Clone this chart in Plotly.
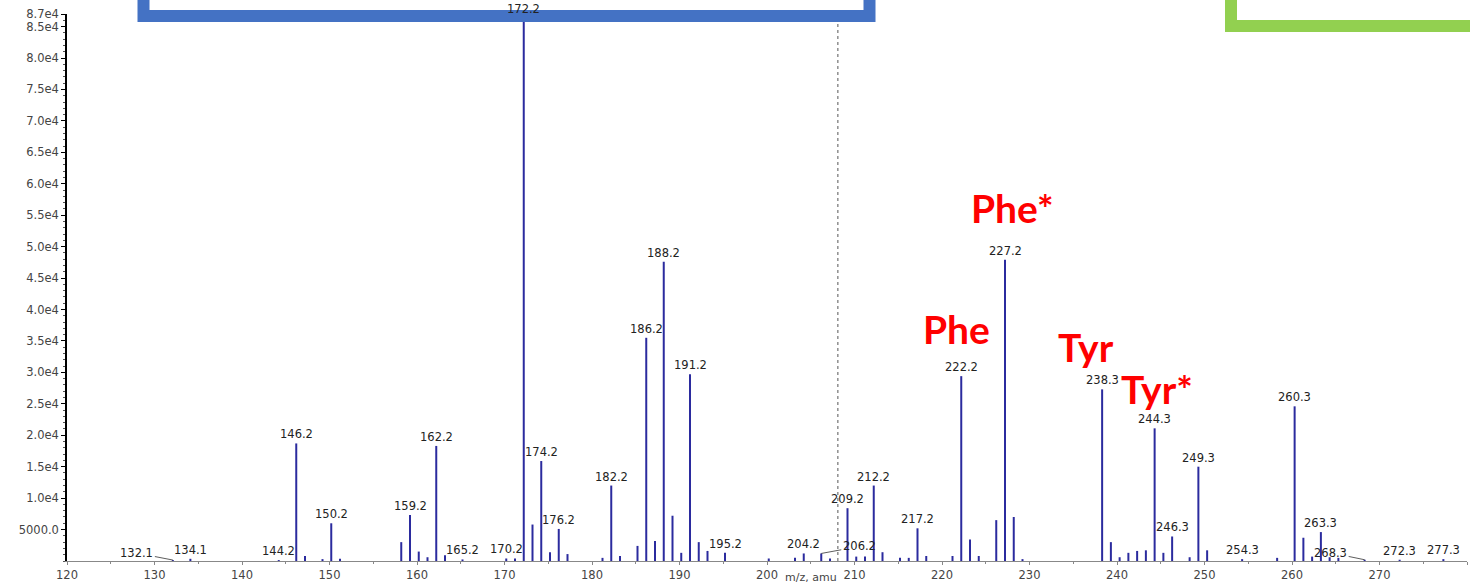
import plotly.graph_objects as go

# ---- data: peaks (m/z, intensity) ----
mz = [132.1, 134.1, 144.2, 146.2, 147.2, 149.2, 150.2, 151.2, 158.2, 159.2, 160.2, 161.2,
      162.2, 163.2, 165.2, 170.2, 171.2, 172.2, 173.2, 174.2, 175.2, 176.2, 177.2, 181.2,
      182.2, 183.2, 185.2, 186.2, 187.2, 188.2, 189.2, 190.2, 191.2, 192.2, 193.2, 195.2,
      200.2, 203.2, 204.2, 206.2, 207.2, 209.2, 210.2, 211.2, 212.2, 213.2, 215.2, 216.2,
      217.2, 218.2, 221.2, 222.2, 223.2, 224.2, 226.2, 227.2, 228.2, 229.2, 238.3, 239.3,
      240.3, 241.3, 242.3, 243.3, 244.3, 245.3, 246.3, 248.3, 249.3, 250.3, 254.3, 258.3,
      260.3, 261.3, 262.3, 263.3, 264.3, 265.3, 268.3, 272.3, 277.3]
intensity = [150, 350, 150, 18700, 800, 300, 6000, 350, 3000, 7300, 1500, 600,
             18300, 900, 250, 400, 400, 86400, 5800, 15900, 1400, 5100, 1100, 500,
             12000, 800, 2400, 35500, 3200, 47600, 7200, 1300, 29700, 3000, 1600, 1300,
             400, 500, 1200, 1200, 400, 8400, 700, 700, 12000, 1400, 500, 500,
             5200, 800, 800, 29400, 3400, 800, 6500, 47900, 7000, 300, 27300, 3000,
             600, 1300, 1600, 1700, 21100, 1300, 3900, 600, 15000, 1700, 300, 500,
             24600, 3700, 700, 4600, 600, 500, 200, 200, 300]

label_mz = [132.1, 134.1, 144.2, 146.2, 150.2, 159.2, 162.2, 165.2, 170.2, 172.2, 174.2,
            176.2, 182.2, 186.2, 188.2, 191.2, 195.2, 204.2, 206.2, 209.2, 212.2, 217.2,
            222.2, 227.2, 238.3, 244.3, 246.3, 249.3, 254.3, 260.3, 263.3, 268.3, 272.3, 277.3]
label_text = ["132.1", "134.1", "144.2", "146.2", "150.2", "159.2", "162.2", "165.2", "170.2",
              "172.2", "174.2", "176.2", "182.2", "186.2", "188.2", "191.2", "195.2", "204.2",
              "206.2", "209.2", "212.2", "217.2", "222.2", "227.2", "238.3", "244.3", "246.3",
              "249.3", "254.3", "260.3", "263.3", "268.3", "272.3", "277.3"]
# labels pushed aside with a leader line (pixel offset of label from its peak)
leader_offset = {"132.1": -36, "206.2": 38, "268.3": -34}

y_tickvals = [5000, 10000, 15000, 20000, 25000, 30000, 35000, 40000, 45000, 50000, 55000,
              60000, 65000, 70000, 75000, 80000, 85000, 87000]
y_ticktext = ["5000.0", "1.0e4", "1.5e4", "2.0e4", "2.5e4", "3.0e4", "3.5e4", "4.0e4", "4.5e4",
              "5.0e4", "5.5e4", "6.0e4", "6.5e4", "7.0e4", "7.5e4", "8.0e4", "8.5e4", "8.7e4"]

annot_text = ["Phe*", "Phe", "Tyr", "Tyr*"]
annot_mz = [228.0, 221.6, 236.5, 244.6]
annot_y = [56200, 36900, 34000, 27400]

x_title = "m/z, amu"

# ---- build figure ----
xs, ys = [], []
for m, v in zip(mz, intensity):
    xs += [m, m, None]
    ys += [0, v, None]

fig = go.Figure()
fig.add_trace(go.Scatter(x=xs, y=ys, mode="lines", line=dict(color="#2b2b9e", width=2),
                         hoverinfo="skip", showlegend=False))
# baseline arrow marker
fig.add_trace(go.Scatter(x=[119.4], y=[600], mode="markers", cliponaxis=False,
                         marker=dict(symbol="triangle-right", size=10, color="#1a1a8c"),
                         showlegend=False, hoverinfo="skip"))

lab_font = dict(family="DejaVu Sans", size=11.5, color="#222222")
inten = dict(zip(mz, intensity))
for m, t in zip(label_mz, label_text):
    if t in leader_offset:
        fig.add_annotation(x=m, y=inten[m], ax=leader_offset[t], ay=-7, text=t,
                           showarrow=True, arrowhead=0, arrowwidth=0.8,
                           arrowcolor="#333333", standoff=0, startstandoff=0,
                           font=lab_font)
    else:
        fig.add_annotation(x=m, y=inten[m], text=t, showarrow=False, yanchor="bottom",
                           font=lab_font)

for t, m, y in zip(annot_text, annot_mz, annot_y):
    fig.add_annotation(x=m, y=y, text="<b>" + t + "</b>", showarrow=False,
                       font=dict(family="Lato", size=39, color="#ff0000"))

# dotted marker line
fig.add_shape(type="line", x0=208.1, x1=208.1, y0=0, y1=87000,
              line=dict(color="#555555", width=1, dash="dot"), layer="below")

L, T, H, W = 67, 14, 547, 1400

def px(x):
    return (x - L) / W

def py(y):
    return (T + H - y) / H

# x-axis title, kept inside the page between the 200 and 210 tick labels
fig.add_annotation(x=205, xref="x", y=py(586), yref="paper", yanchor="bottom",
                   text=x_title, showarrow=False,
                   font=dict(family="DejaVu Sans", size=11, color="#444444"))

fig.add_shape(type="rect", xref="paper", yref="paper", x0=px(143.5), x1=px(869.5),
              y0=py(16), y1=py(-60), line=dict(color="#4472C4", width=12),
              fillcolor="rgba(0,0,0,0)", layer="above")
fig.add_shape(type="rect", xref="paper", yref="paper", x0=px(1231), x1=px(1600),
              y0=py(26), y1=py(-60), line=dict(color="#92D050", width=12),
              fillcolor="rgba(0,0,0,0)", layer="above")

tick_font = dict(family="DejaVu Sans", size=11.5, color="#444444")
fig.update_layout(
    width=1470, height=586, margin=dict(l=L, r=1470 - L - W, t=T, b=586 - T - H),
    plot_bgcolor="white", paper_bgcolor="white", showlegend=False,
    xaxis=dict(range=[120, 280], tickvals=list(range(120, 290, 10)),
               showgrid=False, zeroline=False, showline=True, linecolor="#888888",
               ticks="outside", ticklen=3, tickcolor="#888888", tickfont=tick_font,
               minor=dict(dtick=5, ticks="outside", ticklen=2, tickcolor="#888888")),
    yaxis=dict(range=[0, 87000], tickvals=y_tickvals, ticktext=y_ticktext,
               showgrid=False, zeroline=False, showline=True, linecolor="#000000",
               linewidth=1.5, ticks="outside", ticklen=4, tickcolor="#000000",
               tickfont=tick_font,
               minor=dict(dtick=1000, ticks="outside", ticklen=2, tickcolor="#555555")),
)
fig.update_xaxes(automargin=False)
fig.update_yaxes(automargin=False)

fig.write_html("out.html")
